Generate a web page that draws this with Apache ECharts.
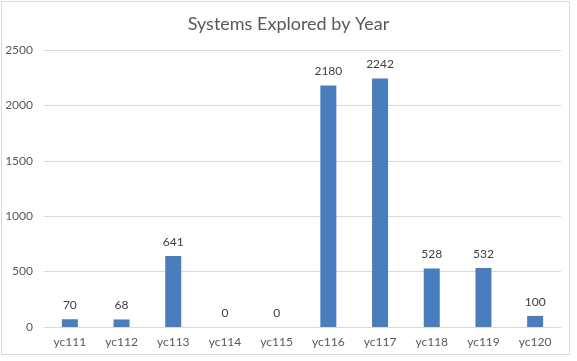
<!DOCTYPE html>
<html><head><meta charset="utf-8">
<script src="https://cdn.jsdelivr.net/npm/echarts@6/dist/echarts.min.js"></script>
<style>html,body{margin:0;padding:0;background:#fff;}#c{width:577px;height:361px;}</style>
</head><body><div id="c"></div>
<script>
const categories = ['yc111','yc112','yc113','yc114','yc115','yc116','yc117','yc118','yc119','yc120'];
const systemsExplored = [70, 68, 641, 0, 0, 2180, 2242, 528, 532, 100];
const yTicks = [0, 500, 1000, 1500, 2000, 2500];

const chart = echarts.init(document.getElementById('c'));
chart.setOption({
  animation: false,
  backgroundColor: '#fff',
  graphic: [{type:'rect', shape:{x:1.5,y:1.5,width:568,height:353}, style:{fill:'none', stroke:'#d9d9d9', lineWidth:1}, z:-1}],
  title: {text: 'Systems Explored by Year', left: 'center', top: 10,
    textStyle: {fontFamily: 'Lato', fontWeight: 'normal', fontSize: 18, color: '#595959'}},
  grid: {left: 44, right: 16, top: 50, bottom: 34, containLabel: false},
  xAxis: {type: 'category', data: categories,
    axisLine: {lineStyle: {color: '#d9d9d9'}}, axisTick: {show: false},
    axisLabel: {fontFamily: 'Lato', fontSize: 12, color: '#595959', margin: 9}},
  yAxis: {type: 'value', min: yTicks[0], max: yTicks[yTicks.length-1], interval: 500,
    axisLine: {show: false}, axisTick: {show: false},
    splitLine: {lineStyle: {color: '#d9d9d9'}},
    axisLabel: {fontFamily: 'Lato', fontSize: 12, color: '#595959', margin: 11, formatter: v => String(v)}},
  series: [{type: 'bar', data: systemsExplored, barWidth: 16,
    itemStyle: {color: '#4a7dbd'},
    label: {show: true, position: 'top', distance: 8, fontFamily: 'Lato', fontSize: 12, color: '#404040'}}]
});
</script></body></html>
